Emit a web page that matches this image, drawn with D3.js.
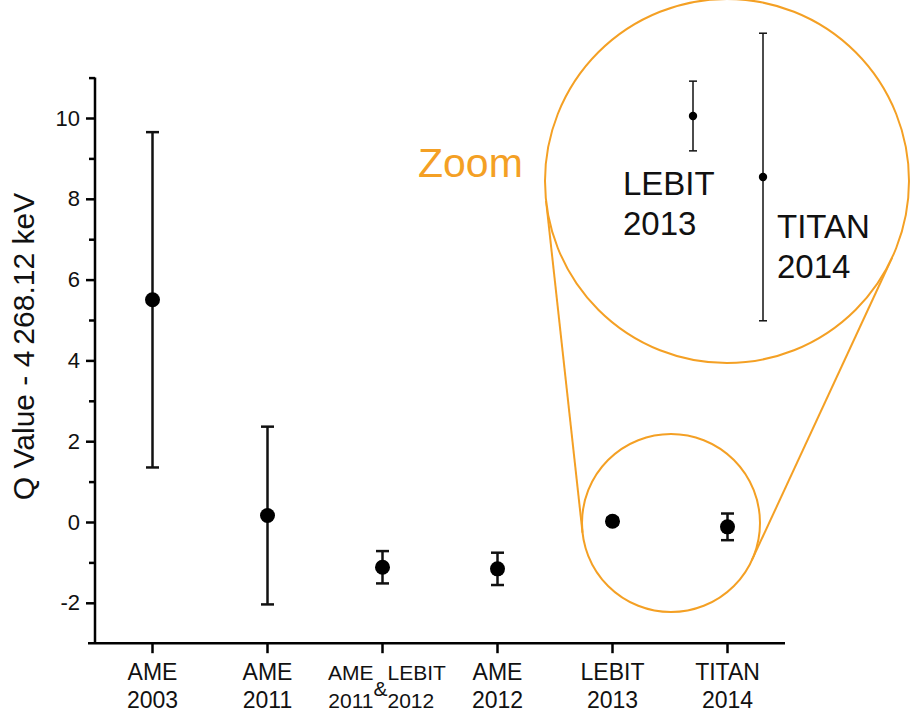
<!DOCTYPE html>
<html>
<head>
<meta charset="utf-8">
<script src="https://cdn.jsdelivr.net/npm/d3@7"></script>
<style>
  html, body { margin: 0; padding: 0; background: #fff; }
  svg { display: block; font-family: "Liberation Sans", Arial, sans-serif; }
</style>
</head>
<body>
<svg id="chart" width="912" height="717"></svg>
<script>
// Q-value measurements (offset from 4268.12 keV) with 1-sigma uncertainties
const categories = ["AME 2003", "AME 2011", "AME 2011 & LEBIT 2012", "AME 2012", "LEBIT 2013", "TITAN 2014"];
const qValues    = [5.5, 0.16, -1.12, -1.16, 0.02, -0.12];
const qErrors    = [4.15, 2.2, 0.4, 0.4, 0.08, 0.33];

// tick labels on the category axis (two lines each)
const tickLine1 = ["AME", "AME", "", "AME", "LEBIT", "TITAN"];
const tickLine2 = ["2003", "2011", "", "2012", "2013", "2014"];
// the combined evaluation gets a split label
const comboLeft  = ["AME", "2011"];
const comboRight = ["LEBIT", "2012"];

const yMajorTicks = [-2, 0, 2, 4, 6, 8, 10];
const yMinorTicks = [-1, 1, 3, 5, 7, 9, 11];

// the two most precise values, magnified in the inset
const insetIndex = [4, 5];
const insetLabels = [["LEBIT", "2013"], ["TITAN", "2014"]];

const ORANGE = "#F4A024";

const svg = d3.select("#chart");

// main scales
const x = d3.scaleLinear().domain([-0.5, 5.5]).range([95, 785]);
const y = d3.scaleLinear().domain([-3, 11]).range([643.2, 77.6]);

// ---- axes ----
const yAxis = d3.axisLeft(y).tickValues(yMajorTicks).tickSize(9).tickPadding(6).tickFormat(d => String(d));
const gy = svg.append("g").attr("transform", "translate(95,0)").call(yAxis);
gy.select(".domain").remove();
gy.selectAll(".tick line").attr("stroke", "#000").attr("stroke-width", 2.5);
gy.selectAll(".tick text").attr("font-size", 22).attr("fill", "#111")
  .attr("font-family", "'Liberation Sans', Arial, sans-serif");

const yMinor = d3.axisLeft(y).tickValues(yMinorTicks).tickSize(6).tickFormat("");
const gym = svg.append("g").attr("transform", "translate(95,0)").call(yMinor);
gym.select(".domain").remove();
gym.selectAll(".tick line").attr("stroke", "#000").attr("stroke-width", 2.5);

// axis lines
svg.append("line").attr("x1", 95).attr("x2", 95).attr("y1", y(11)).attr("y2", y(-3))
  .attr("stroke", "#000").attr("stroke-width", 2.5);
svg.append("line").attr("x1", 88).attr("x2", x(5.5)).attr("y1", y(-3)).attr("y2", y(-3))
  .attr("stroke", "#000").attr("stroke-width", 2.5);

// x ticks
svg.append("g").selectAll("line").data(categories).join("line")
  .attr("x1", (d, i) => x(i)).attr("x2", (d, i) => x(i))
  .attr("y1", y(-3)).attr("y2", y(-3) + 10)
  .attr("stroke", "#000").attr("stroke-width", 2.5);

// x tick labels
const xl = svg.append("g").attr("font-size", 23).attr("fill", "#111").attr("text-anchor", "middle");
categories.forEach((c, i) => {
  if (!tickLine1[i]) return;
  xl.append("text").attr("x", x(i)).attr("y", 680).text(tickLine1[i]);
  xl.append("text").attr("x", x(i)).attr("y", 708).text(tickLine2[i]);
});
// split label for the combined entry
const ci = 2;
const cl = svg.append("g").attr("font-size", 21).attr("fill", "#111");
cl.append("text").attr("x", x(ci) - 9).attr("y", 680).attr("text-anchor", "end").text(comboLeft[0]);
cl.append("text").attr("x", x(ci) - 9).attr("y", 708).attr("text-anchor", "end").text(comboLeft[1]);
cl.append("text").attr("x", x(ci) + 5).attr("y", 680).attr("text-anchor", "start").text(comboRight[0]);
cl.append("text").attr("x", x(ci) + 5).attr("y", 708).attr("text-anchor", "start").text(comboRight[1]);
cl.append("text").attr("x", x(ci) - 2).attr("y", 696).attr("text-anchor", "middle").text("&");

// y axis title
svg.append("text")
  .attr("transform", `translate(34,${(180 + 513) / 2}) rotate(-90)`)
  .attr("text-anchor", "middle").attr("font-size", 30).attr("fill", "#111")
  .text("Q Value - 4\u2009268.12 keV");

// ---- error bars and points ----
function drawErrorBars(g, xs, ys, capHalf, sw, r, idx) {
  const sel = g.selectAll("g.pt").data(idx).join("g").attr("class", "pt");
  sel.append("line")
    .attr("x1", i => xs(i)).attr("x2", i => xs(i))
    .attr("y1", i => ys(qValues[i] + qErrors[i])).attr("y2", i => ys(qValues[i] - qErrors[i]))
    .attr("stroke", "#111").attr("stroke-width", sw);
  [1, -1].forEach(s => {
    sel.append("line")
      .attr("x1", i => xs(i) - capHalf).attr("x2", i => xs(i) + capHalf)
      .attr("y1", i => ys(qValues[i] + s * qErrors[i])).attr("y2", i => ys(qValues[i] + s * qErrors[i]))
      .attr("stroke", "#111").attr("stroke-width", sw);
  });
  sel.append("circle")
    .attr("cx", i => xs(i)).attr("cy", i => ys(qValues[i])).attr("r", r)
    .attr("fill", "#000");
}
drawErrorBars(svg.append("g"), x, y, 6.5, 2.5, 7.5, d3.range(categories.length));

// ---- magnifier ----
const small = { cx: 671, cy: 523, r: 89 };
const big   = { cx: 727, cy: 181, r: 182 };

// external tangents between the two circles: unit normal n with
// n·(C_small - C_big) = r_big - r_small, tangent points at C + r n
(function () {
  const dx = small.cx - big.cx, dy = small.cy - big.cy;
  const dist = Math.hypot(dx, dy);
  const base = Math.atan2(dy, dx);
  const off = Math.acos((big.r - small.r) / dist);
  [base + off, base - off].forEach(a => {
    const nx = Math.cos(a), ny = Math.sin(a);
    svg.append("line")
      .attr("x1", big.cx + big.r * nx).attr("y1", big.cy + big.r * ny)
      .attr("x2", small.cx + small.r * nx).attr("y2", small.cy + small.r * ny)
      .attr("stroke", ORANGE).attr("stroke-width", 2);
  });
})();

svg.append("circle").attr("cx", small.cx).attr("cy", small.cy).attr("r", small.r)
  .attr("fill", "none").attr("stroke", ORANGE).attr("stroke-width", 2);
svg.append("circle").attr("cx", big.cx).attr("cy", big.cy).attr("r", big.r)
  .attr("fill", "#fff").attr("stroke", ORANGE).attr("stroke-width", 2);

// inset scales
const xi = d3.scaleLinear().domain([4, 5]).range([693, 763]);
const yi = d3.scaleLinear().domain([-0.12, 0.02]).range([177, 116]);
drawErrorBars(svg.append("g"), xi, yi, 4, 1.5, 4.2, insetIndex);

const il = svg.append("g").attr("font-size", 33).attr("fill", "#111");
il.append("text").attr("x", 623).attr("y", 195).text(insetLabels[0][0]);
il.append("text").attr("x", 623).attr("y", 235).text(insetLabels[0][1]);
il.append("text").attr("x", 777).attr("y", 238).text(insetLabels[1][0]);
il.append("text").attr("x", 777).attr("y", 278).text(insetLabels[1][1]);

svg.append("text").attr("x", 418).attr("y", 177).attr("font-size", 41)
  .attr("fill", ORANGE).text("Zoom");
</script>
</body>
</html>
